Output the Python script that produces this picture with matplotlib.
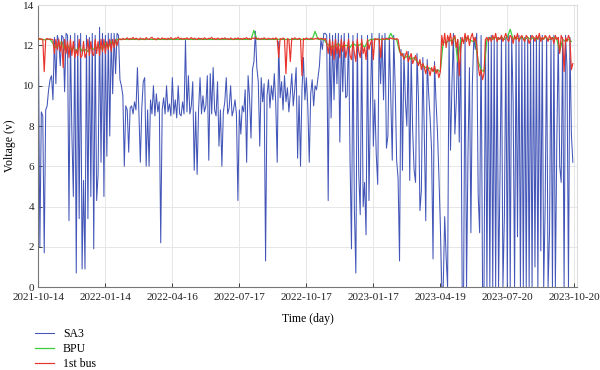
import numpy as np
import pandas as pd
import matplotlib
matplotlib.use("Agg")
import matplotlib.pyplot as plt
import matplotlib.dates as mdates

# SA3 voltage, one value every 2 days from 2021-10-14 (10 values = 20 days per row)
sa3 = [
    12.3, 2.0, 8.7, 8.5, 1.7, 8.8, 9.0, 9.8, 10.3, 10.5,
    9.3, 12.4, 10.1, 12.5, 12.2, 11.0, 12.5, 12.4, 9.7, 12.6,
    12.5, 3.3, 12.5, 7.6, 4.5, 12.6, 0.7, 12.5, 3.4, 12.6,
    0.9, 5.3, 0.9, 12.5, 3.4, 12.4, 4.5, 12.6, 1.9, 12.5,
    4.3, 5.6, 12.9, 6.2, 12.6, 4.5, 12.5, 6.5, 12.6, 7.5,
    12.6, 9.6, 12.6, 10.6, 12.6, 12.5, 10.3, 10.0, 9.5, 6.0,
    9.0, 8.8, 6.7, 8.9, 9.0, 8.6, 9.2, 8.8, 10.9, 8.7,
    6.2, 8.9, 10.2, 10.4, 6.0, 8.8, 6.0, 9.3, 8.6, 10.0,
    8.5, 9.6, 8.7, 9.2, 2.2, 8.8, 9.4, 8.6, 10.0, 8.7,
    9.1, 8.5, 10.4, 8.6, 9.3, 8.4, 10.0, 8.6, 8.5, 9.2,
    8.6, 12.25, 8.7, 10.5, 8.6, 9.0, 10.2, 5.8, 8.7, 5.6,
    8.8, 10.4, 8.6, 9.5, 8.7, 9.0, 10.5, 6.3, 10.6, 8.6,
    10.9, 8.8, 8.5, 10.2, 7.0, 8.8, 6.0, 8.7, 9.2, 10.4,
    8.6, 8.9, 10.0, 8.5, 8.8, 9.3, 8.6, 4.3, 8.8, 7.6,
    9.0, 8.7, 9.8, 6.2, 10.5, 9.4, 7.4, 10.8, 11.2, 12.7,
    10.9, 10.2, 7.0, 10.4, 9.2, 10.1, 1.3, 9.5, 10.3, 8.9,
    10.0, 9.3, 10.6, 9.1, 6.2, 12.2, 9.4, 10.2, 8.8, 10.5,
    9.2, 9.9, 8.7, 9.6, 10.6, 9.0, 9.8, 10.9, 6.4, 9.5,
    6.0, 9.8, 11.4, 9.3, 10.4, 9.0, 6.2, 9.6, 10.3, 9.0,
    10.0, 9.8, 10.4, 11.0, 12.3, 11.8, 12.6, 12.6, 12.5, 4.3,
    12.6, 8.4, 12.5, 9.3, 12.6, 10.1, 12.6, 7.2, 12.5, 9.7,
    12.6, 9.4, 9.5, 12.6, 6.4, 1.9, 12.5, 3.8, 0.7, 12.6,
    5.6, 3.6, 12.5, 4.0, 5.2, 2.6, 12.5, 4.3, 9.1, 12.6,
    7.0, 9.3, 6.6, 5.1, 12.6, 10.1, 12.5, 9.3, 12.6, 6.9,
    7.5, 12.4, 9.3, 6.3, 12.5, 10.0, 6.3, 5.4, 1.3, 11.8,
    5.8, 11.6, 9.3, 8.0, 11.7, 5.3, 11.5, 7.8, 5.8, 5.2,
    11.6, 9.3, 3.8, 4.8, 11.4, 7.6, 3.3, 11.3, 9.6, 8.4,
    6.8, 1.4, 11.2, 9.3, 7.8, 5.6, 3.1, 0.0, 0.0, 3.5,
    1.5, 0.0, 12.4, 6.8, 10.1, 12.6, 7.6, 9.3, 12.3, 7.2,
    12.4, 0.0, 0.0, 12.5, 0.0, 6.6, 10.9, 2.7, 10.1, 12.4,
    11.8, 12.6, 4.6, 2.7, 12.5, 0.0, 0.0, 12.3, 0.0, 12.4,
    0.0, 12.5, 0.0, 12.3, 0.0, 12.4, 0.0, 5.6, 12.5, 0.0,
    3.5, 12.4, 0.0, 12.5, 0.0, 12.4, 9.2, 0.0, 12.4, 2.5,
    12.5, 0.0, 12.4, 0.0, 12.4, 0.0, 12.3, 0.0, 12.5, 0.0,
    12.4, 1.0, 12.5, 0.0, 12.4, 1.8, 12.5, 0.0, 4.0, 12.4,
    0.0, 2.7, 12.4, 0.0, 12.5, 0.0, 7.2, 12.4, 6.0, 5.2,
    12.4, 0.0, 12.5, 10.9, 0.0, 12.4, 7.6, 6.2,
]

# 1st bus voltage, one value every 2 days from 2021-10-14
bus = [
    12.30, 12.35, 12.30, 12.32, 10.70, 12.30, 12.35, 12.30, 12.33, 12.30,
    12.28, 11.60, 12.30, 11.80, 12.30, 11.70, 12.20, 10.90, 12.30, 11.60,
    12.2, 11.4, 12.3, 11.5, 12.2, 11.4, 11.8, 11.5, 12.3, 11.4,
    11.5, 12.2, 11.4, 11.6, 12.3, 11.5, 12.2, 11.6, 11.5, 12.3,
    11.6, 12.2, 11.5, 12.3, 11.7, 12.3, 11.6, 12.2, 11.8, 12.3,
    11.7, 12.3, 11.9, 12.3, 12.0, 12.30, 12.33, 12.28, 12.35, 12.30,
    12.32, 12.38, 12.29, 12.35, 12.31, 12.40, 12.30, 12.36, 12.33, 12.28,
    12.37, 12.31, 12.34, 12.29, 12.39, 12.32, 12.30, 12.36, 12.41, 12.31,
    12.34, 12.28, 12.37, 12.33, 12.30, 12.38, 12.32, 12.35, 12.29, 12.36,
    12.31, 12.39, 12.33, 12.30, 12.37, 12.34, 12.42, 12.31, 12.36, 12.30,
    12.35, 12.32, 12.38, 12.30, 12.34, 12.39, 12.31, 12.36, 12.33, 12.29,
    12.37, 12.32, 12.35, 12.30, 12.38, 12.33, 12.31, 12.36, 12.34, 12.40,
    12.31, 12.35, 12.29, 12.37, 12.33, 12.30, 12.36, 12.32, 12.38, 12.31,
    12.34, 12.30, 12.37, 12.33, 12.29, 12.36, 12.32, 12.38, 12.31, 12.35,
    12.30, 12.36, 12.33, 12.39, 12.31, 12.35, 12.30, 12.37, 12.34, 12.40,
    12.32, 12.36, 12.30, 12.35, 12.31, 12.38, 12.33, 12.30, 12.36, 12.32,
    12.32, 12.36, 12.30, 12.38, 12.33, 11.40, 12.35, 12.30, 12.37, 12.32,
    10.60, 12.34, 12.30, 11.20, 12.36, 12.31, 12.38, 12.33, 12.30, 12.36,
    12.32, 10.50, 12.35, 12.30, 12.37, 12.33, 12.30, 12.36, 12.34, 12.30,
    12.35, 12.32, 12.38, 12.30, 12.36, 12.33, 12.30, 12.35, 12.10, 11.60,
    12.3, 11.5, 12.2, 11.3, 12.3, 11.6, 12.1, 11.4, 12.3, 11.7,
    12.2, 11.4, 11.8, 12.3, 11.5, 11.3, 12.2, 11.6, 11.2, 12.3,
    11.7, 11.4, 12.3, 11.6, 11.9, 11.3, 12.3, 11.8, 12.1, 12.3,
    11.3, 12.35, 12.30, 12.33, 12.30, 11.40, 12.35, 12.32, 12.30, 12.36,
    12.33, 12.30, 12.38, 12.32, 12.35, 12.30, 12.34, 12.30, 11.80, 11.50,
    11.6, 11.3, 11.5, 11.7, 11.2, 11.4, 11.6, 11.1, 11.3, 11.5,
    11.2, 11.0, 11.3, 10.8, 11.1, 10.9, 10.6, 11.0, 10.8, 10.5,
    10.9, 10.7, 11.0, 10.6, 10.8, 10.4, 10.7, 12.5, 12.0, 12.6,
    11.9, 12.5, 12.2, 12.6, 12.0, 12.4, 12.5, 11.9, 12.3, 10.5,
    11.8, 12.4, 12.1, 12.6, 12.2, 12.5, 12.0, 12.4, 12.6, 12.2,
    12.4, 12.0, 11.0, 10.5, 10.8, 10.3, 10.6, 12.3, 12.4, 12.2,
    12.4, 12.2, 12.5, 12.3, 12.6, 12.2, 12.4, 12.3, 12.5, 12.2,
    12.4, 12.6, 12.3, 12.2, 12.5, 12.4, 12.1, 12.5, 12.3, 12.6,
    12.2, 12.4, 12.5, 12.3, 12.2, 12.5, 12.4, 12.1, 12.3, 12.5,
    12.4, 12.2, 12.5, 12.3, 12.6, 12.2, 12.4, 12.3, 12.5, 12.4,
    12.2, 12.5, 12.3, 12.4, 12.1, 12.5, 12.3, 12.4, 11.6, 12.5,
    12.3, 10.7, 12.4, 12.2, 12.5, 12.3, 10.8, 11.1,
]

# BPU voltage, one value every 4 days from 2021-10-14 (10 values = 40 days per row)
bpu = [
    12.3, 12.3, 12.28, 12.3, 12.3, 12.1, 11.9, 12.0, 12.2, 11.8,
    12.0, 11.8, 11.9, 11.7, 12.0, 11.7, 11.8, 11.7, 11.9, 11.8,
    11.9, 12.0, 11.8, 12.1, 11.9, 12.2, 12.0, 12.3, 12.3, 12.3,
    12.3, 12.3, 12.3, 12.3, 12.3, 12.3, 12.3, 12.3, 12.3, 12.3,
    12.3, 12.3, 12.3, 12.3, 12.3, 12.3, 12.3, 12.3, 12.3, 12.3,
    12.3, 12.3, 12.3, 12.3, 12.3, 12.3, 12.3, 12.3, 12.3, 12.3,
    12.3, 12.3, 12.3, 12.3, 12.3, 12.3, 12.3, 12.3, 12.3, 12.3,
    12.3, 12.3, 12.3, 12.3, 12.75, 12.3, 12.3, 12.3, 12.3, 12.3,
    12.3, 12.3, 12.3, 12.3, 12.3, 12.3, 12.3, 12.3, 12.3, 12.3,
    12.3, 12.3, 12.3, 12.3, 12.3, 12.7, 12.3, 12.3, 12.3, 12.1,
    12.0, 11.9, 12.0, 12.1, 11.9, 12.0, 12.0, 11.9, 12.1, 12.0,
    12.0, 12.1, 11.9, 12.2, 12.3, 12.3, 12.3, 12.3, 12.3, 12.3,
    12.3, 12.6, 12.3, 12.3, 11.7, 11.5, 11.4, 11.5, 11.3, 11.4,
    11.2, 11.1, 11.0, 10.9, 10.9, 10.8, 10.7, 10.8, 10.7, 12.2,
    12.1, 12.3, 12.2, 12.4, 11.2, 12.3, 12.2, 12.4, 12.3, 12.2,
    12.3, 11.2, 10.8, 10.7, 12.3, 12.4, 12.3, 12.4, 12.3, 12.4,
    12.3, 12.4, 12.8, 12.3, 12.4, 12.3, 12.4, 12.3, 12.4, 12.3,
    12.4, 12.3, 12.4, 12.3, 12.4, 12.3, 12.3, 12.4, 12.3, 11.7,
    12.3, 12.2, 12.3, 12.2,
]

start = "2021-10-14"
tick_dates = ["2021-10-14", "2022-01-14", "2022-04-16", "2022-07-17", "2022-10-17",
              "2023-01-17", "2023-04-19", "2023-07-20", "2023-10-20"]
yticks = [0, 2, 4, 6, 8, 10, 12, 14]

t_sa3 = pd.date_range(start, periods=len(sa3), freq="2D")
t_bus = pd.date_range(start, periods=len(bus), freq="2D")
t_bpu = pd.date_range(start, periods=len(bpu), freq="4D")

plt.rcParams["font.family"] = ["Liberation Serif", "DejaVu Serif"]

fig = plt.figure(figsize=(6.0, 3.7), dpi=100)
ax = fig.add_axes([0.064, 0.224, 0.898, 0.762])

ax.plot(t_sa3, sa3, color="#4356b8", lw=0.75, label="SA3", zorder=2)
ax.plot(t_bpu, bpu, color="#3ccc3c", lw=0.9, label="BPU", zorder=3)
ax.plot(t_bus, bus, color="#e8342a", lw=0.85, label="1st bus", zorder=4)

ax.set_xlim(pd.Timestamp("2021-10-14"), pd.Timestamp("2023-10-24"))
ax.set_ylim(0, 14)
ax.set_yticks(yticks)
ax.set_xticks(pd.to_datetime(tick_dates))
ax.xaxis.set_major_formatter(mdates.DateFormatter("%Y-%m-%d"))
ax.grid(True, color="#e6e6e6", lw=0.7, zorder=0)
ax.set_axisbelow(True)
ax.tick_params(direction="in", length=3, width=0.6, labelsize=8, colors="#222222")
ax.tick_params(axis="x", pad=4)
ax.tick_params(axis="y", pad=3)
for s in ["left", "bottom"]:
    ax.spines[s].set_color("#777777")
    ax.spines[s].set_linewidth(0.8)
for s in ["top", "right"]:
    ax.spines[s].set_color("#dddddd")
    ax.spines[s].set_linewidth(0.8)

ax.set_ylabel("Voltage (v)", fontsize=8.5, labelpad=5)
ax.set_xlabel("Time (day)", fontsize=8.5, labelpad=8)

leg = fig.legend(loc="upper left", bbox_to_anchor=(0.05, 0.125), frameon=False,
                 fontsize=8.5, handlelength=1.6, handletextpad=0.8,
                 labelspacing=0.25, borderaxespad=0)

fig.savefig("out.png", dpi=100)
